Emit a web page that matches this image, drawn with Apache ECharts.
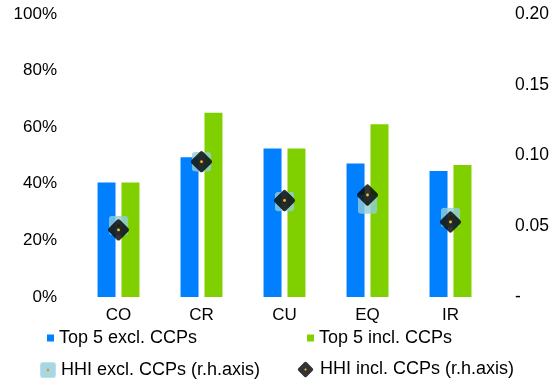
<!DOCTYPE html>
<html><head><meta charset="utf-8">
<script src="https://cdn.jsdelivr.net/npm/echarts@6/dist/echarts.min.js"></script>
<style>html,body{margin:0;padding:0;background:#fff}#c{width:553px;height:385px}</style>
</head><body><div id="c"></div>
<script>
var categories = ['CO', 'CR', 'CU', 'EQ', 'IR'];
var top5Excl = [40.5, 49.4, 52.5, 47.2, 44.5];
var top5Incl = [40.5, 65.1, 52.5, 61.0, 46.6];
var hhiExcl = [0.0505, 0.0956, 0.0674, 0.0657, 0.0562];
var hhiIncl = [0.0474, 0.0956, 0.0682, 0.0721, 0.0530];
var leftTicks = [0, 20, 40, 60, 80, 100];
var rightTicks = [0, 0.05, 0.10, 0.15, 0.20];

function svgUri(s){ return 'image://data:image/svg+xml;charset=utf-8,' + encodeURIComponent(s); }
var exclSvg = "<svg xmlns='http://www.w3.org/2000/svg' width='40' height='40' viewBox='0 0 20 20'><rect x='0.3' y='0.3' width='19.4' height='19.4' rx='3.5' fill='#92CDDC'/><rect x='8.5' y='8.5' width='3' height='3' fill='#E46C0A'/></svg>";
var inclSvg = "<svg xmlns='http://www.w3.org/2000/svg' width='48' height='48' viewBox='0 0 24 24'><rect x='4.5' y='4.5' width='15' height='15' rx='2.2' transform='rotate(45 12 12)' fill='#000'/><circle cx='12' cy='12' r='1.3' fill='#FFC000'/></svg>";
var exclSym = svgUri(exclSvg);
var inclSym = svgUri(inclSvg);

var font = "'Liberation Sans', Arial, sans-serif";
var chart = echarts.init(document.getElementById('c'), null, {renderer: 'canvas'});
function legendItem(name, icon, left, top, w, h) {
  return {
    data: [{name: name, icon: icon}],
    left: left, top: top, padding: 0,
    itemWidth: w, itemHeight: h,
    selectedMode: false,
    textStyle: {fontFamily: font, fontSize: 18, color: '#000'}
  };
}
chart.setOption({
  animation: false,
  grid: {left: 77, right: 61, top: 14, bottom: 88},
  legend: [
    legendItem('Top 5 excl. CCPs', 'rect', 47, 329, 7, 7),
    legendItem('Top 5 incl. CCPs', 'rect', 307, 329, 7, 7),
    legendItem('HHI excl. CCPs (r.h.axis)', exclSym, 40, 361, 16, 16),
    legendItem('HHI incl. CCPs (r.h.axis)', inclSym, 296, 360, 19, 19)
  ],
  xAxis: {
    type: 'category', data: categories,
    axisLine: {show: false}, axisTick: {show: false},
    axisLabel: {fontFamily: font, fontSize: 17, color: '#000', margin: 10}
  },
  yAxis: [{
    type: 'value', min: 0, max: 100, interval: 20,
    splitLine: {show: false}, axisLine: {show: false}, axisTick: {show: false},
    axisLabel: {fontFamily: font, fontSize: 17, color: '#000', margin: 20,
      formatter: function(v){ return leftTicks.indexOf(v) >= 0 ? v + '%' : ''; }}
  }, {
    type: 'value', min: 0, max: 0.2, interval: 0.05, position: 'right',
    splitLine: {show: false}, axisLine: {show: false}, axisTick: {show: false},
    axisLabel: {fontFamily: font, fontSize: 17.5, color: '#000', margin: 23,
      formatter: function(v){ return v === 0 ? '-' : v.toFixed(2); }}
  }],
  series: [
    {name: 'Top 5 excl. CCPs', type: 'bar', data: top5Excl, barWidth: 18, barGap: '33%',
      itemStyle: {color: '#0080FF'}},
    {name: 'Top 5 incl. CCPs', type: 'bar', data: top5Incl, barWidth: 18,
      itemStyle: {color: '#80D000'}},
    {name: 'HHI excl. CCPs (r.h.axis)', type: 'scatter', yAxisIndex: 1, data: hhiExcl,
      symbol: exclSym, symbolSize: 20, z: 3},
    {name: 'HHI incl. CCPs (r.h.axis)', type: 'scatter', yAxisIndex: 1, data: hhiIncl,
      symbol: inclSym, symbolSize: 26, z: 4}
  ]
});
</script></body></html>
